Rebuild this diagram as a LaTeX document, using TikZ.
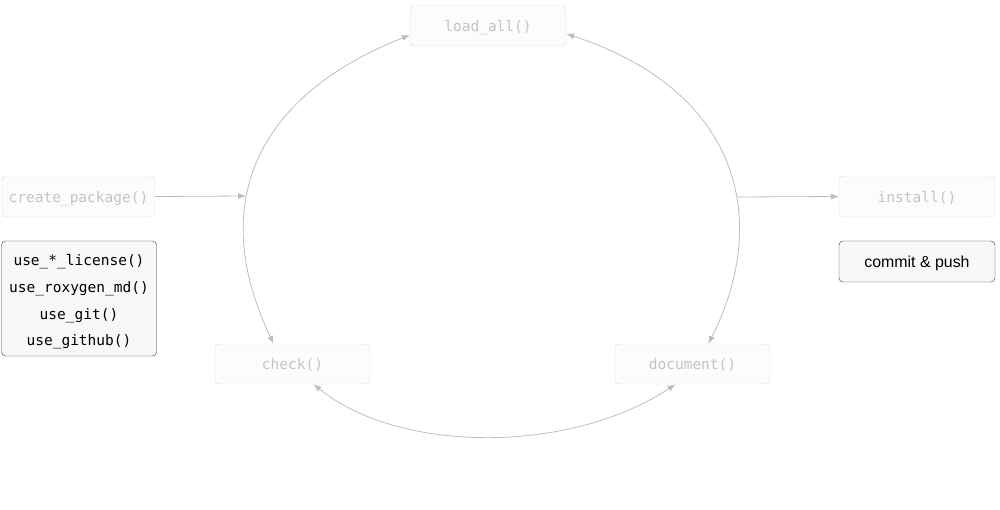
\documentclass[tikz,border=0pt]{standalone}
\usepackage{fontspec}
\setmainfont{Liberation Sans}
\setmonofont{DejaVu Sans Mono}
\usetikzlibrary{arrows.meta}
\definecolor{faint}{HTML}{C4C4C4}
\definecolor{faintline}{HTML}{DADADA}
\definecolor{boxfill}{HTML}{FCFCFC}
\definecolor{edgegray}{HTML}{BDBDBD}
\definecolor{darkline}{HTML}{333333}
\definecolor{darkfill}{HTML}{F8F8F8}

\begin{document}
\begin{tikzpicture}[x=1pt,y=-1pt,
  fnbox/.style={draw=faintline,fill=boxfill,text=faint,rounded corners=4pt,
    minimum width=156pt,minimum height=41pt,inner sep=0pt,
    text height=13pt,text depth=2pt,
    font=\fontsize{14.5}{17}\selectfont\ttfamily},
  darkbox/.style={draw=darkline,fill=darkfill,text=black,rounded corners=4pt,
    minimum width=155pt,inner sep=0pt},
  cycleedge/.style={draw=edgegray,line width=0.8pt,
    {Latex[length=8pt,width=6pt]}-{Latex[length=8pt,width=6pt]}},
  oneway/.style={draw=edgegray,line width=0.8pt,-{Latex[length=8pt,width=6pt]}}]
\useasboundingbox (0,0) rectangle (1000,509);
% THE CYCLE
\node [fnbox] (load) at (488,25.5) {load\_all()};
\node [fnbox,minimum width=155pt,minimum height=40pt] (check) at (292.5,364) {check()};
\node [fnbox,minimum width=155pt,minimum height=40pt] (document) at (692.5,364) {document()};
% START AND FINISH
\node [fnbox,minimum width=153pt] (create) at (78.5,196.5) {create\_package()};
\node [fnbox] (install) at (917,196.5) {install()};
% SET UP ONCE
\node [darkbox,minimum height=115pt,align=center,
  font=\fontsize{14.5}{26.6}\selectfont\ttfamily] (setup) at (79,298.5)
  {\rule{0pt}{18pt}use\_*\_license()\\use\_roxygen\_md()\\use\_git()\\use\_github()};
\node [darkbox,minimum width=156pt,minimum height=41pt,text height=14pt,text depth=3pt,
  font=\fontsize{15.9}{19}\selectfont] (commit) at (917,261.5) {commit \& push};
% CURVED EDGES
\draw [cycleedge] (load.187) .. controls (258,95) and (206,202) .. (check.133);
\draw [cycleedge] (load.354) .. controls (747,93.5) and (768,227) .. (document.52);
\draw [cycleedge] (check.316) .. controls (400,454) and (570,454) .. (document.230);
% IN AND OUT
\coordinate (enter) at (246,196);
\coordinate (leave) at (737,197);
\draw [oneway] (create.east) -- (enter);
\draw [oneway] (leave) -- (install.west);
\end{tikzpicture}
\end{document}
